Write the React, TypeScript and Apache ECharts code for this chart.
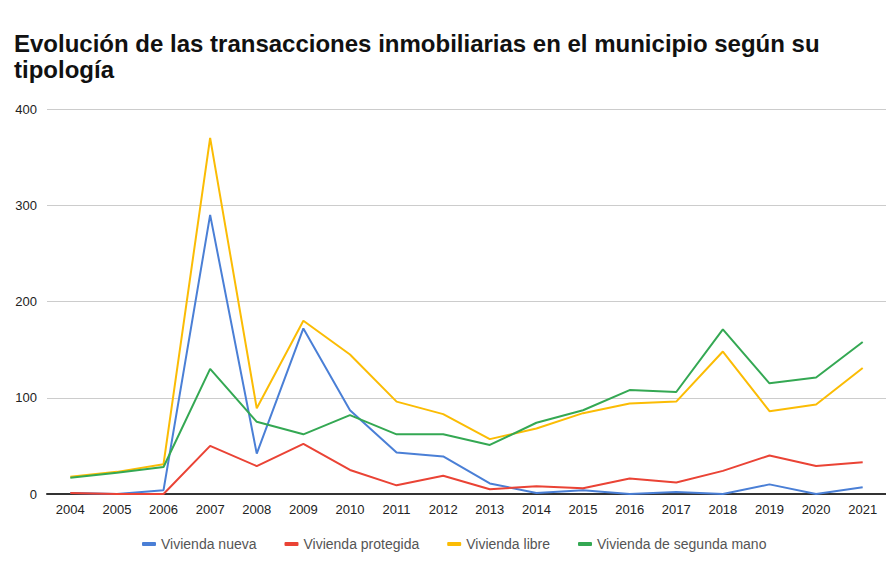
import React, { useEffect, useRef } from "react";
import * as echarts from "echarts";

const years = ["2004","2005","2006","2007","2008","2009","2010","2011","2012","2013","2014","2015","2016","2017","2018","2019","2020","2021"];
const viviendaNueva = [1, 0, 4, 290, 42, 172, 87, 43, 39, 11, 1, 4, 0, 2, 0, 10, 0, 7];
const viviendaProtegida = [1, 0, 0, 50, 29, 52, 25, 9, 19, 5, 8, 6, 16, 12, 24, 40, 29, 33];
const viviendaLibre = [18, 23, 31, 370, 89, 180, 145, 96, 83, 57, 68, 84, 94, 96, 148, 86, 93, 131];
const viviendaSegunda = [17, 22, 28, 130, 75, 62, 82, 62, 62, 51, 74, 87, 108, 106, 171, 115, 121, 158];
const seriesNames = ["Vivienda nueva", "Vivienda protegida", "Vivienda libre", "Vivienda de segunda mano"];
const colors = ["#4a7fd6", "#ea4335", "#fbbc04", "#34a853"];

export default function App() {
  const ref = useRef<HTMLDivElement>(null);
  useEffect(() => {
    if (!ref.current) return;
    const chart = echarts.init(ref.current, undefined, { renderer: "svg" });
    const data = [viviendaNueva, viviendaProtegida, viviendaLibre, viviendaSegunda];
    chart.setOption({
      animation: false,
      backgroundColor: "#ffffff",
      color: colors,
      title: {
        text: "Evolución de las transacciones inmobiliarias en el municipio según su\ntipología",
        left: 9,
        top: 25,
        textStyle: {
          fontFamily: "Liberation Sans, Arial, sans-serif",
          fontSize: 24,
          fontWeight: "bold",
          color: "#111111",
          lineHeight: 26,
        },
      },
      legend: {
        bottom: 16,
        left: 137,
        itemWidth: 14,
        itemHeight: 4,
        itemGap: 28,
        icon: "roundRect",
        textStyle: {
          fontFamily: "Liberation Sans, Arial, sans-serif",
          fontSize: 14,
          color: "#555555",
        },
        data: seriesNames,
      },
      grid: { left: 47, right: 0, top: 109, bottom: 78, containLabel: false },
      xAxis: {
        type: "category",
        data: years,
        boundaryGap: true,
        axisLine: { show: true, lineStyle: { color: "#333333", width: 2 } },
        axisTick: { show: false },
        axisLabel: {
          fontFamily: "Liberation Sans, Arial, sans-serif",
          fontSize: 13,
          color: "#222222",
          margin: 9,
          interval: 0,
        },
      },
      yAxis: {
        type: "value",
        min: 0,
        max: 400,
        interval: 100,
        axisLine: { show: false },
        axisTick: { show: false },
        splitLine: { lineStyle: { color: "#cccccc", width: 1 } },
        axisLabel: {
          fontFamily: "Liberation Sans, Arial, sans-serif",
          fontSize: 13,
          color: "#222222",
          margin: 10,
        },
      },
      series: seriesNames.map((name, i) => ({
        name,
        type: "line",
        data: data[i],
        symbol: "none",
        lineStyle: { width: 2, color: colors[i] },
        itemStyle: { color: colors[i] },
      })),
    });
    return () => chart.dispose();
  }, []);
  return <div ref={ref} style={{ position: "fixed", left: 0, top: 0, width: 886, height: 572 }} />;
}
